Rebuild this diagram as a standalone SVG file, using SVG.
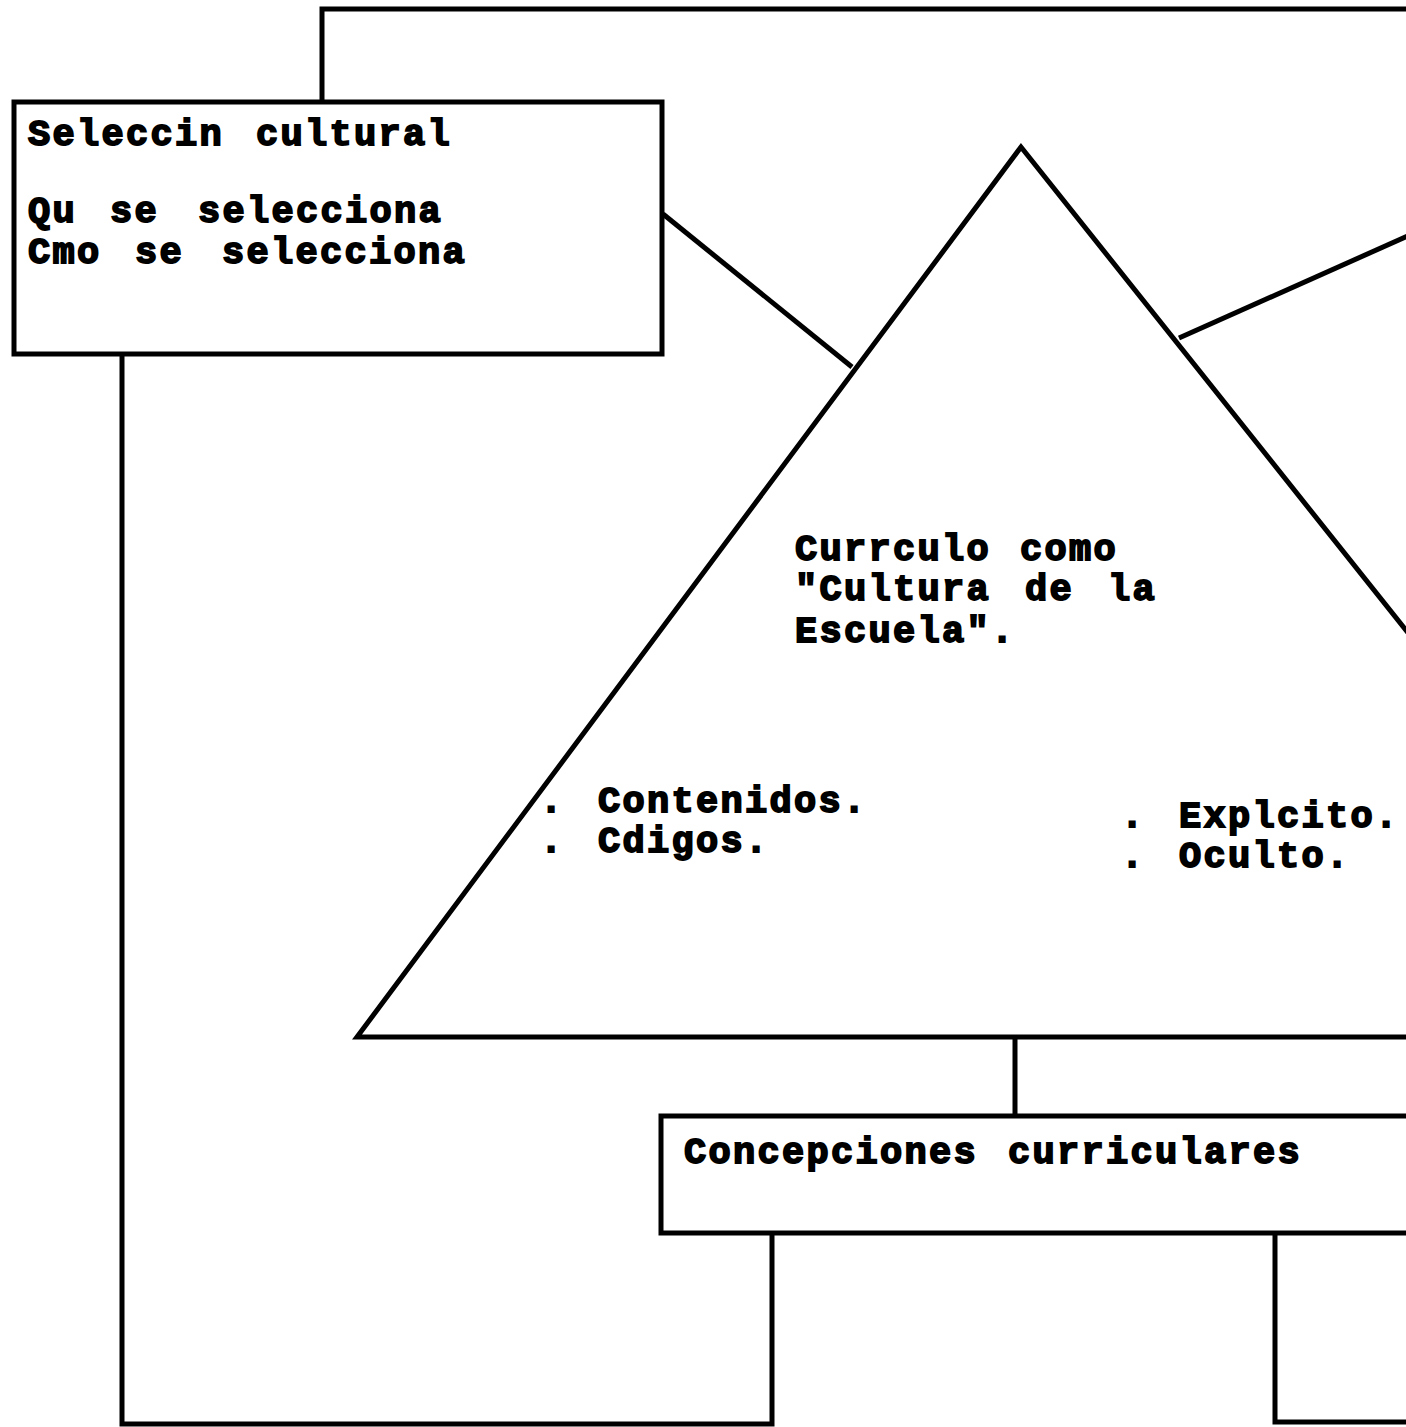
<svg xmlns="http://www.w3.org/2000/svg" width="1406" height="1427" viewBox="0 0 1406 1427">
<style>
.ln{fill:none;stroke:#000;stroke-width:5;stroke-linejoin:miter}
.bx{fill:#fff;stroke:#000;stroke-width:5}
.t{font-family:"Liberation Mono","Courier New",monospace;font-weight:bold;font-size:37px;letter-spacing:2.3px;fill:#000;stroke:#000;stroke-width:1.8}
</style>
<rect width="1406" height="1427" fill="#fff"/>
<g id="connectors">
<polyline class="ln" points="322,102 322,9 1410,9"/>
<polyline class="ln" points="122,355 122,1424 772,1424 772,1234"/>
<polyline class="ln" points="1275,1234 1275,1422 1410,1422"/>
<line class="ln" x1="663" y1="214" x2="852" y2="367"/>
<line class="ln" x1="1179" y1="338" x2="1410" y2="235"/>
<line class="ln" x1="1015" y1="1037" x2="1015" y2="1116"/>
</g>
<g id="node-triangle">
<polygon class="ln" points="1021,147 357,1037 1730,1037"/>
<text class="t" y="560"><tspan x="795">Currculo</tspan><tspan x="1020">como</tspan></text>
<text class="t" y="600"><tspan x="795">"Cultura</tspan><tspan x="1025">de</tspan><tspan x="1108">la</tspan></text>
<text class="t" x="795" y="642">Escuela".</text>
<text class="t" y="812"><tspan x="540">.</tspan><tspan x="598">Contenidos.</tspan></text>
<text class="t" y="852"><tspan x="540">.</tspan><tspan x="598">Cdigos.</tspan></text>
<text class="t" y="827"><tspan x="1121">.</tspan><tspan x="1179">Explcito.</tspan></text>
<text class="t" y="867"><tspan x="1121">.</tspan><tspan x="1179">Oculto.</tspan></text>
</g>
<g id="node-seleccion">
<rect class="bx" x="14" y="102" width="648" height="252"/>
<text class="t" y="145"><tspan x="28">Seleccin</tspan><tspan x="256">cultural</tspan></text>
<text class="t" y="222"><tspan x="28">Qu</tspan><tspan x="110">se</tspan><tspan x="198">selecciona</tspan></text>
<text class="t" y="263"><tspan x="28">Cmo</tspan><tspan x="135">se</tspan><tspan x="222">selecciona</tspan></text>
</g>
<g id="node-concepciones">
<rect class="bx" x="661" y="1116" width="760" height="117"/>
<text class="t" y="1163"><tspan x="684">Concepciones</tspan><tspan x="1008">curriculares</tspan></text>
</g>
</svg>
